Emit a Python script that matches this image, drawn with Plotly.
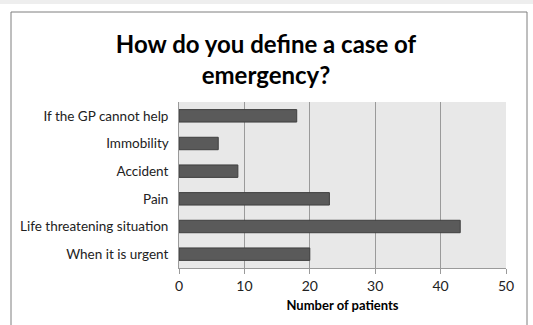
import plotly.graph_objects as go

categories = ["When it is urgent", "Life threatening situation", "Pain", "Accident", "Immobility", "If the GP cannot help"]
values = [20, 43, 23, 9, 6, 18]
x_ticks = [0, 10, 20, 30, 40, 50]

FONT = "Lato"
L, R, T, B = 179, 27, 102, 57
W, H = 533, 325
pw, ph = W - L - R, H - T - B

def px_x(px):
    return (px - L) / pw

def px_y(py):
    return (H - B - py) / ph

fig = go.Figure(go.Bar(
    x=values, y=categories, orientation="h",
    marker=dict(color="#5a5a5a", line=dict(color="#3f3f3f", width=1)),
    width=0.45,
))

fig.update_layout(
    width=W, height=H,
    margin=dict(l=L, r=R, t=T, b=B),
    paper_bgcolor="white",
    plot_bgcolor="#e8e8e8",
    showlegend=False,
    title=dict(text="<b>How do you define a case of<br>emergency?</b>",
               x=px_x(266), xanchor="center", y=1 - 53 / H, yanchor="middle",
               xref="paper",
               font=dict(family=FONT, size=24, color="black")),
    font=dict(family=FONT, size=13.5, color="black"),
    xaxis=dict(range=[0, 50], tickvals=x_ticks, showgrid=True, gridcolor="#9a9a9a", gridwidth=1,
               zeroline=False, showline=True, linecolor="#9a9a9a", ticks="outside", ticklen=5,
               tickcolor="#9a9a9a",
               title=dict(text="<b>Number of patients</b>", font=dict(family=FONT, size=13), standoff=8),
               tickfont=dict(family=FONT, size=14, color="#222")),
    yaxis=dict(showgrid=False, showline=True, linecolor="#9a9a9a", ticks="", ticklen=0,
               tickfont=dict(family=FONT, size=13.5, color="#222"), ticksuffix="  "),
    shapes=[
        dict(type="rect", xref="paper", yref="paper",
             x0=px_x(11), x1=px_x(527), y0=px_y(340), y1=px_y(12),
             line=dict(color="#7f7f7f", width=1), fillcolor="rgba(0,0,0,0)", layer="below"),
        dict(type="rect", xref="paper", yref="paper",
             x0=px_x(0), x1=px_x(533), y0=px_y(4), y1=px_y(0),
             line=dict(width=0), fillcolor="#eeeeee", layer="below"),
    ],
)

fig.write_html("out.html")
